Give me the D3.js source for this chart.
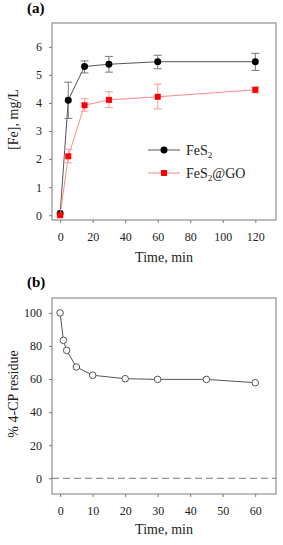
<!DOCTYPE html>
<html>
<head>
<meta charset="utf-8">
<script src="https://cdn.jsdelivr.net/npm/d3@7"></script>
<style>
body { margin: 0; background: #fff; }
svg, svg text { font-family: "Liberation Serif", "Times New Roman", Times, serif; }
</style>
</head>
<body>
<div id="chart-area"></div>
<script>
// panel (a): dissolved iron
var timeA = [0, 5, 15, 30, 60, 120]
var fes2 = [0.06, 4.10, 5.30, 5.38, 5.47, 5.47]
var fes2Lo = [0.06, 3.45, 5.07, 5.10, 5.22, 5.16]
var fes2Hi = [0.06, 4.74, 5.50, 5.66, 5.70, 5.77]
var fes2go = [0.0, 2.10, 3.92, 4.11, 4.22, 4.47]
var fes2goLo = [0.0, 1.87, 3.71, 3.84, 3.79, 4.36]
var fes2goHi = [0.0, 2.35, 4.15, 4.40, 4.67, 4.57]
var ticksAx = [0, 20, 40, 60, 80, 100, 120]
var ticksAy = [0, 1, 2, 3, 4, 5, 6]

// panel (b): 4-CP residue
var timeB = [0, 1, 2, 5, 10, 20, 30, 45, 60]
var residue = [100, 83.4, 77.3, 67.3, 62.3, 60.2, 59.8, 59.8, 57.8]
var ticksBx = [0, 10, 20, 30, 40, 50, 60]
var ticksBy = [0, 20, 40, 60, 80, 100]

const W = 283, H = 545
var svg = d3.select('#chart-area').append("svg")
    .attr("width", W)
    .attr("height", H)

var boxColor = "#7a7a7a"
var serif = "'Liberation Serif', 'Times New Roman', serif"

function panel(top, bottom, xDomain, yDomain, xTicks, yTicks, yTitle, label, labelY, titleY){
    var x = d3.scaleLinear().domain(xDomain).range([52, 276])
    var y = d3.scaleLinear().domain(yDomain).range([bottom, top])
    var g = svg.append("g")

    g.append("rect")
        .attr("x", 52).attr("y", top)
        .attr("width", 224).attr("height", bottom - top)
        .attr("fill", "none").attr("stroke", boxColor).attr("stroke-width", 1)

    var xAxis = g.append("g")
        .attr("transform", "translate(0," + bottom + ")")
        .call(d3.axisBottom(x).tickValues(xTicks).tickFormat(d3.format("d")).tickSize(3).tickPadding(9))
    var yAxis = g.append("g")
        .attr("transform", "translate(52,0)")
        .call(d3.axisLeft(y).tickValues(yTicks).tickFormat(d3.format("d")).tickSize(3).tickPadding(7))
    ;[xAxis, yAxis].forEach(function(a){
        a.attr("font-family", serif)
        a.select(".domain").remove()
        a.selectAll("line").attr("stroke", boxColor)
        a.selectAll("text").attr("font-size", "12px").attr("fill", "#222")
    })

    g.append("text")
        .attr("x", 164).attr("y", bottom + titleY)
        .attr("text-anchor", "middle")
        .attr("font-size", "14px")
        .attr("fill", "#222")
        .text("Time, min")

    g.append("text")
        .attr("transform", "rotate(-90)")
        .attr("x", -(top + bottom) / 2 + 2)
        .attr("y", 18)
        .attr("text-anchor", "middle")
        .attr("font-size", "14px")
        .attr("fill", "#222")
        .text(yTitle)

    g.append("text")
        .attr("x", 27).attr("y", labelY)
        .attr("font-size", "15px")
        .attr("font-weight", "bold")
        .text(label)

    return {g: g, x: x, y: y}
}

// ---- panel a
var a = panel(23, 220, [-5, 132.7], [-0.17, 6.85], ticksAx, ticksAy, "[Fe], mg/L", "(a)", 13, 42)

function series(p, xs, ys, lo, hi, lineColor, errColor, marker, fill, stroke){
    var line = d3.line()
        .x(function(d, i){ return p.x(xs[i]) })
        .y(function(d){ return p.y(d) })
    p.g.append("path")
        .datum(ys)
        .attr("d", line)
        .attr("fill", "none")
        .attr("stroke", lineColor)
        .attr("stroke-width", 1)
    if(lo){
        xs.forEach(function(t, i){
            if(hi[i] - lo[i] < 0.05) return
            var cx = p.x(t)
            p.g.append("line")
                .attr("x1", cx).attr("x2", cx)
                .attr("y1", p.y(lo[i])).attr("y2", p.y(hi[i]))
                .attr("stroke", errColor)
            ;[lo[i], hi[i]].forEach(function(v){
                p.g.append("line")
                    .attr("x1", cx - 4).attr("x2", cx + 4)
                    .attr("y1", p.y(v)).attr("y2", p.y(v))
                    .attr("stroke", errColor)
            })
        })
    }
    p.g.selectAll(null).data(ys).enter()
        .append("path")
        .attr("transform", function(d, i){ return "translate(" + p.x(xs[i]) + "," + p.y(d) + ")" })
        .attr("d", marker)
        .attr("fill", fill)
        .attr("stroke", stroke || "none")
        .attr("stroke-width", 1)
}

var circ = d3.symbol().type(d3.symbolCircle).size(38)()
var sq = d3.symbol().type(d3.symbolSquare).size(36)()
var openCirc = d3.symbol().type(d3.symbolCircle).size(34)()

series(a, timeA, fes2, fes2Lo, fes2Hi, "#555", "#777", circ, "#000")
series(a, timeA, fes2go, fes2goLo, fes2goHi, "#ff8a8a", "#ff9a9a", sq, "#ff0000")

// legend
var legendItems = [
    {name: "FeS", sub: "2", rest: "", line: "#555", marker: circ, fill: "#000"},
    {name: "FeS", sub: "2", rest: "@GO", line: "#ff8a8a", marker: sq, fill: "#ff0000"}
]
var legend = a.g.append("g").attr("transform", "translate(148,150)")
legendItems.forEach(function(item, i){
    var row = legend.append("g").attr("transform", "translate(0," + (i * 23) + ")")
    row.append("line")
        .attr("x1", 0).attr("x2", 32)
        .attr("stroke", item.line)
    row.append("path")
        .attr("transform", "translate(16,0)")
        .attr("d", item.marker)
        .attr("fill", item.fill)
    var t = row.append("text")
        .attr("x", 38).attr("y", 5)
        .attr("font-size", "14px")
        .attr("fill", "#222")
    t.append("tspan").text(item.name)
    t.append("tspan").attr("font-size", "9px").attr("dy", 3).text(item.sub)
    t.append("tspan").attr("dy", -3).text(item.rest)
})

// ---- panel b
var b = panel(298, 494, [-2.5, 66.4], [-9.5, 109], ticksBx, ticksBy, "% 4-CP residue", "(b)", 287, 40)

b.g.append("line")
    .attr("x1", 52).attr("x2", 276)
    .attr("y1", b.y(0)).attr("y2", b.y(0))
    .attr("stroke", "#777")
    .attr("stroke-dasharray", "7,4")

series(b, timeB, residue, null, null, "#555", null, openCirc, "#fff", "#555")
</script>
</body>
</html>
